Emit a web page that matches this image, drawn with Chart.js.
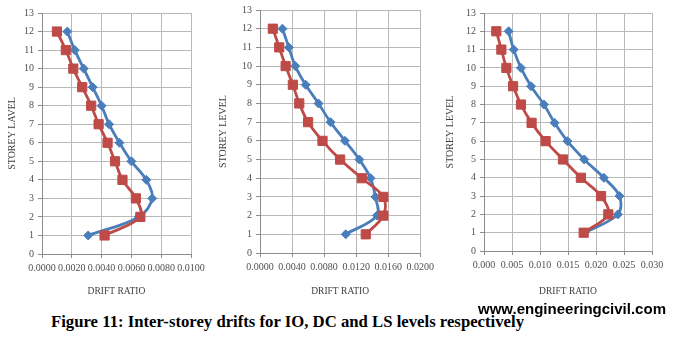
<!DOCTYPE html>
<html><head><meta charset="utf-8">
<script src="https://cdn.jsdelivr.net/npm/chart.js@4"></script>
<style>
html,body{margin:0;padding:0;background:#fff;width:675px;height:345px;overflow:hidden;position:relative}
canvas{position:absolute;top:0}
#cap{position:absolute;left:51px;top:314px;font:bold 16.5px "Liberation Serif";line-height:16.5px;white-space:nowrap;transform-origin:0 0;color:#000}
#wm{position:absolute;left:478px;top:302px;font:bold 14px "Liberation Sans";line-height:14px;white-space:nowrap;transform-origin:0 0;color:#000}
</style></head><body>
<canvas id="c1" width="220" height="300" style="left:0px"></canvas>
<canvas id="c2" width="223" height="300" style="left:215px"></canvas>
<canvas id="c3" width="235" height="300" style="left:440px"></canvas>
<div id="cap">Figure 11: Inter-storey drifts for IO, DC and LS levels respectively</div>
<div id="wm">www.engineeringcivil.com</div>
<script>
// storey levels
const storeys = [1,2,3,4,5,6,7,8,9,10,11,12];
// IO level
const ioBlue = [0.0031,0.0065,0.0074,0.0070,0.0060,0.0052,0.0045,0.0040,0.0034,0.0028,0.0022,0.0017];
const ioRed  = [0.0042,0.0066,0.0063,0.0054,0.0049,0.0044,0.0038,0.0033,0.0027,0.0021,0.0016,0.0010];
// DC level
const dcBlue = [0.0107,0.0146,0.0144,0.0138,0.0124,0.0106,0.0088,0.0073,0.0057,0.0044,0.0036,0.0028];
const dcRed  = [0.0132,0.0154,0.0154,0.0127,0.0100,0.0078,0.0060,0.0049,0.0041,0.0032,0.0024,0.0016];
// LS level
const lsBlue = [0.0180,0.0239,0.0242,0.0214,0.0179,0.0149,0.0126,0.0107,0.0084,0.0066,0.0053,0.0044];
const lsRed  = [0.0178,0.0222,0.0209,0.0173,0.0141,0.0110,0.0085,0.0066,0.0052,0.0040,0.0031,0.0022];
// ticks
const yTicks = [0,1,2,3,4,5,6,7,8,9,10,11,12,13];
const xTicks1 = [0,0.002,0.004,0.006,0.008,0.010];
const xTicks2 = [0,0.004,0.008,0.012,0.016,0.020];
const xTicks3 = [0,0.005,0.010,0.015,0.020,0.025,0.030];
const xTitle = 'DRIFT RATIO';
const yTitles = ['STOREY LAVEL','STOREY LEVEL','STOREY LEVEL'];

const BLUE = '#4a7ebb', RED = '#be4b48';
const SERIF = "'Liberation Serif', 'DejaVu Serif', serif";
const tickFont = {family:SERIF, size:10};
const tickColor = '#505050';

function pts(vals){ return storeys.map((s,i)=>({x:vals[i], y:s})); }

function makeChart(id, blue, red, xTicks, dec, yTitle, cfg){
  new Chart(document.getElementById(id), {
    type:'line',
    data:{datasets:[
      {data:pts(red), borderColor:RED, backgroundColor:RED, borderWidth:2.8, pointStyle:'rect', pointRadius:6.5, pointBorderWidth:1, tension:0.35},
      {data:pts(blue), borderColor:BLUE, backgroundColor:BLUE, borderWidth:2.8, pointStyle:'rectRot', pointRadius:4.5, pointBorderWidth:1, tension:0.35}
    ]},
    options:{
      responsive:false, animation:false, events:[],
      layout:{padding:{left:0, top:cfg.top, right:cfg.right, bottom:0}},
      plugins:{legend:{display:false}, tooltip:{enabled:false}},
      scales:{
        x:{type:'linear', min:xTicks[0], max:xTicks[xTicks.length-1],
          afterBuildTicks:s=>{ s.ticks = xTicks.map(v=>({value:v})); },
          afterFit:s=>{ s.height = cfg.xh; },
          grid:{color:'#b8b8b8', lineWidth:1, tickLength:4, tickColor:'#8c8c8c'},
          border:{color:'#8c8c8c', width:1},
          ticks:{font:tickFont, color:tickColor, padding:4, maxRotation:0, autoSkip:false, callback:v=>Number(v).toFixed(dec)},
          title:{display:true, text:xTitle, font:{family:SERIF, size:9.5}, color:'#404040', padding:{top:0,bottom:3}}
        },
        y:{type:'linear', min:0, max:13,
          afterBuildTicks:s=>{ s.ticks = yTicks.map(v=>({value:v})); },
          afterFit:s=>{ s.width = cfg.yw; },
          grid:{color:'#b8b8b8', lineWidth:1, tickLength:4, tickColor:'#8c8c8c'},
          border:{color:'#8c8c8c', width:1},
          ticks:{font:tickFont, color:tickColor, padding:4, autoSkip:false},
          title:{display:true, text:yTitle, font:{family:SERIF, size:10}, color:'#404040', padding:{top:cfg.tp,bottom:0}}
        }
      }
    }
  });
}

makeChart('c1', ioBlue, ioRed, xTicks1, 4, yTitles[0], {top:13, right:29, xh:46, yw:42, tp:6});
makeChart('c2', dcBlue, dcRed, xTicks2, 4, yTitles[1], {top:10, right:15, xh:47, yw:45, tp:2});
makeChart('c3', lsBlue, lsRed, xTicks3, 3, yTitles[2], {top:13, right:23, xh:49, yw:44, tp:4});

function fit(id, w){
  const el = document.getElementById(id);
  const cw = el.getBoundingClientRect().width;
  el.style.transform = 'scaleX(' + (w/cw) + ')';
}
fit('cap', 473);
fit('wm', 188);
</script>
</body></html>
